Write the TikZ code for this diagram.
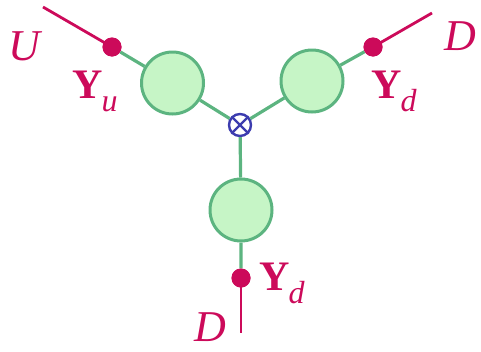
\documentclass[tikz,border=0pt]{standalone}
\usepackage{fontspec}
\setmainfont{Liberation Serif}
\definecolor{mag}{RGB}{204,10,90}
\definecolor{gline}{RGB}{92,180,128}
\definecolor{gfill}{RGB}{198,245,198}
\definecolor{oblue}{RGB}{60,60,175}
\newcommand{\labY}[1]{{\fontsize{42}{42}\selectfont\bfseries Y}\kern-1pt\raisebox{-13pt}{\fontsize{32}{32}\selectfont\itshape #1}}
\begin{document}
\begin{tikzpicture}[x=1pt,y=-1pt,
  tens/.style={circle,draw=gline,fill=gfill,line width=3pt,minimum size=62pt,inner sep=0pt},
  dotn/.style={circle,fill=mag,minimum size=19pt,inner sep=0pt},
  gl/.style={draw=gline,line width=3.2pt},
  ml/.style={draw=mag,line width=2.8pt},
  lab/.style={text=mag,inner sep=0pt,anchor=base west},
  big/.style={font=\fontsize{44}{44}\selectfont\itshape}]
\useasboundingbox (0,0) rectangle (481,351);
\node[circle,draw=oblue,line width=2.4pt,minimum size=22pt,inner sep=0pt,fill=white] (o) at (240,125) {};
\node[tens] (tl) at (172.5,83) {};
\node[tens] (tr) at (312,81) {};
\node[tens] (tb) at (241,210) {};
\node[dotn] (dl) at (112,47) {};
\node[dotn] (dr) at (373,47) {};
\node[dotn] (db) at (241,278) {};
\coordinate (el) at (43,7);
\coordinate (er) at (432,13);
\coordinate (eb) at (241,333);
\draw[gl] (dl) -- (tl) (tl) -- (o);
\draw[gl] (dr) -- (tr) (tr) -- (o);
\draw[gl] (db) -- (tb) (tb) -- (o);
\draw[ml] (dl.center) -- (el);
\draw[ml] (dr.center) -- (er);
\draw[ml] (db.center) -- (eb);
\node[dotn] at (dl) {};
\node[dotn] at (dr) {};
\node[dotn] at (db) {};
\draw[oblue,line width=2.4pt] (o.45) -- (o.225) (o.135) -- (o.315);
\node[lab,big] (U) at (8,60) {U};
\node[lab] (Yu) at (72,98) {\labY{u}};
\node[lab,big] (D1) at (444,50) {D};
\node[lab] (Yd1) at (371,98) {\labY{d}};
\node[lab,big] (D2) at (194,341) {D};
\node[lab] (Yd2) at (259,290) {\labY{d}};
\end{tikzpicture}
\end{document}
